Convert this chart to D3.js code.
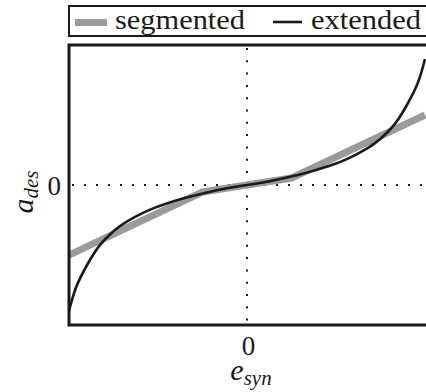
<!DOCTYPE html>
<html>
<head>
<meta charset="utf-8">
<script src="https://cdn.jsdelivr.net/npm/d3@7"></script>
<style>
  html, body { margin: 0; padding: 0; background: #fff; }
  svg { display: block; }
</style>
</head>
<body>
<svg id="chart" width="426" height="392"></svg>
<script>
// Piecewise-linear ("segmented") mapping: breakpoints
const segmentedX = [-1, -0.25, 0.25, 1];
const segmentedY = [-0.5, -0.05, 0.05, 0.5];

// Smooth ("extended") mapping: sampled points
const extendedX = [-1, -0.96, -0.9, -0.83, -0.75, -0.68, -0.57, -0.46, -0.34, -0.23, -0.12, 0,
                   0.12, 0.23, 0.34, 0.46, 0.57, 0.68, 0.75, 0.83, 0.9, 0.96, 1];
const extendedY = [-0.9, -0.73, -0.575, -0.435, -0.33, -0.265, -0.19, -0.135, -0.09, -0.055, -0.025, 0,
                   0.025, 0.055, 0.09, 0.135, 0.19, 0.265, 0.33, 0.435, 0.575, 0.73, 0.9];

const xTicks = [0];
const yTicks = [0];
const legendLabels = ["segmented", "extended"];

const svg = d3.select("#chart");
const ink = "#1a1a1a";
const grey = "#9b9b9b";
const serif = "Liberation Serif";

const plotLeft = 69, plotRight = 425, plotTop = 45, plotBottom = 325;
const x = d3.scaleLinear().domain([-1, 1]).range([plotLeft, plotRight]);
const y = d3.scaleLinear().domain([-1, 1]).range([plotBottom, plotTop]);

// clip for the plotted curves
svg.append("clipPath").attr("id", "plotClip")
  .append("rect").attr("x", plotLeft).attr("y", plotTop)
  .attr("width", 440 - plotLeft).attr("height", plotBottom - plotTop);

// dotted zero lines
svg.append("line")
  .attr("x1", x(0)).attr("x2", x(0)).attr("y1", plotTop + 3).attr("y2", plotBottom)
  .attr("stroke", ink).attr("stroke-width", 2).attr("stroke-dasharray", "2,10.3");
svg.append("line")
  .attr("x1", plotLeft + 3).attr("x2", 440).attr("y1", y(0)).attr("y2", y(0))
  .attr("stroke", ink).attr("stroke-width", 2).attr("stroke-dasharray", "2,10");

const g = svg.append("g").attr("clip-path", "url(#plotClip)");

const segLine = d3.line().x(d => x(d[0])).y(d => y(d[1]));
g.append("path")
  .datum(d3.zip(segmentedX, segmentedY))
  .attr("d", segLine)
  .attr("fill", "none").attr("stroke", grey).attr("stroke-width", 7);

const extLine = d3.line().x(d => x(d[0])).y(d => y(d[1])).curve(d3.curveNatural);
g.append("path")
  .datum(d3.zip(extendedX, extendedY))
  .attr("d", extLine)
  .attr("fill", "none").attr("stroke", ink).attr("stroke-width", 2.6);

// frame (right side runs past the drawing edge)
svg.append("path")
  .attr("d", `M440,${plotTop}H${plotLeft}V${plotBottom}H440`)
  .attr("fill", "none").attr("stroke", ink).attr("stroke-width", 3);

// tick labels
svg.selectAll(".xt").data(xTicks).enter().append("text")
  .attr("x", d => x(d) + 1.5).attr("y", 355)
  .attr("font-family", serif).attr("fill", ink)
  .attr("text-anchor", "middle").attr("font-size", 27).text(d => d);
svg.selectAll(".yt").data(yTicks).enter().append("text")
  .attr("x", 61).attr("y", d => y(d) + 10)
  .attr("font-family", serif).attr("fill", ink)
  .attr("text-anchor", "end").attr("font-size", 27).text(d => d);

// axis titles
const xt = svg.append("text").attr("x", 251).attr("y", 380)
  .attr("font-family", serif).attr("fill", ink)
  .attr("text-anchor", "middle").attr("font-size", 30).attr("font-style", "italic");
xt.append("tspan").text("e");
xt.append("tspan").attr("font-size", 21).attr("dy", 5).text("syn");

const yt = svg.append("text").attr("transform", "translate(33,192) rotate(-90)")
  .attr("font-family", serif).attr("fill", ink)
  .attr("text-anchor", "middle").attr("font-size", 30).attr("font-style", "italic");
yt.append("tspan").text("a");
yt.append("tspan").attr("font-size", 21).attr("dy", 5).text("des");

// legend
svg.append("rect")
  .attr("x", 69).attr("y", 6).attr("width", 380).attr("height", 30)
  .attr("fill", "none").attr("stroke", ink).attr("stroke-width", 2);
svg.append("line").attr("x1", 75).attr("x2", 107).attr("y1", 22.5).attr("y2", 22.5)
  .attr("stroke", grey).attr("stroke-width", 7);
svg.append("line").attr("x1", 273).attr("x2", 302).attr("y1", 22).attr("y2", 22)
  .attr("stroke", ink).attr("stroke-width", 2.6);
svg.append("text").attr("x", 115).attr("y", 29).attr("font-size", 28)
  .attr("font-family", serif).attr("fill", ink)
  .attr("textLength", 130).attr("lengthAdjust", "spacingAndGlyphs").text(legendLabels[0]);
svg.append("text").attr("x", 311).attr("y", 29).attr("font-size", 28)
  .attr("font-family", serif).attr("fill", ink)
  .attr("textLength", 110).attr("lengthAdjust", "spacingAndGlyphs").text(legendLabels[1]);
</script>
</body>
</html>
